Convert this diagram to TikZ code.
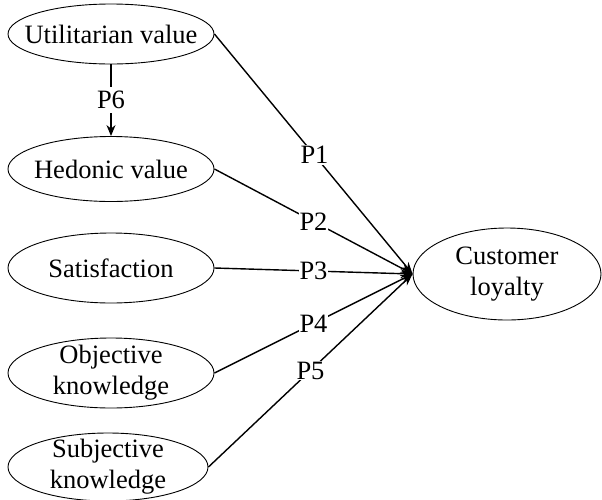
\documentclass[tikz,border=0pt]{standalone}
\usepackage{fontspec}
\setmainfont{Liberation Serif}
\usetikzlibrary{shapes.geometric,arrows.meta}
\begin{document}
\begin{tikzpicture}[x=1pt,y=-1pt,
  ell/.style={draw, ellipse, line width=0.9pt, inner sep=0pt},
  txt/.style={font=\fontsize{26.5}{31}\selectfont, align=center, inner sep=0pt},
  plab/.style={font=\fontsize{26.5}{31}\selectfont, fill=white, inner sep=1pt},
  conn/.style={line width=1.4pt, -{Stealth[length=12pt,width=9pt]}}]
\useasboundingbox (0,0) rectangle (602,499);
\node[ell, minimum width=206pt, minimum height=60pt] (u) at (111,34) {};
\node[txt] (ut) at (u) {Utilitarian value};
\node[ell, minimum width=206pt, minimum height=65pt] (h) at (111,169) {};
\node[txt] (ht) at (h) {Hedonic value};
\node[ell, minimum width=206pt, minimum height=70pt] (s) at (111,268) {};
\node[txt] (st) at (s) {Satisfaction};
\node[ell, minimum width=206pt, minimum height=70pt] (o) at (111,373) {};
\node[txt] (ot) at (o) {Objective\\knowledge};
\node[ell, minimum width=200pt, minimum height=68pt] (k) at (108,467) {};
\node[txt] (kt) at (k) {Subjective\\knowledge};
\node[ell, minimum width=188pt, minimum height=92pt] (c) at (507,274) {};
\node[txt] (ct) at (c) {Customer\\loyalty};
\coordinate (tip) at (c.west);
\draw[conn] (u.east) -- node[plab,pos=0.505] {P1} (tip);
\draw[conn] (h.east) -- node[plab,pos=0.5] {P2} (tip);
\draw[conn] (s.east) -- node[plab,pos=0.5] {P3} (tip);
\draw[conn] (o.east) -- node[plab,pos=0.5] {P4} (tip);
\draw[conn] (k.east) -- node[plab,pos=0.5] {P5} (tip);
\draw[line width=1.4pt, -{Stealth[length=11pt,width=9pt]}] (u.south) -- node[plab, inner ysep=4pt] {P6} (h.north);
\end{tikzpicture}
\end{document}
